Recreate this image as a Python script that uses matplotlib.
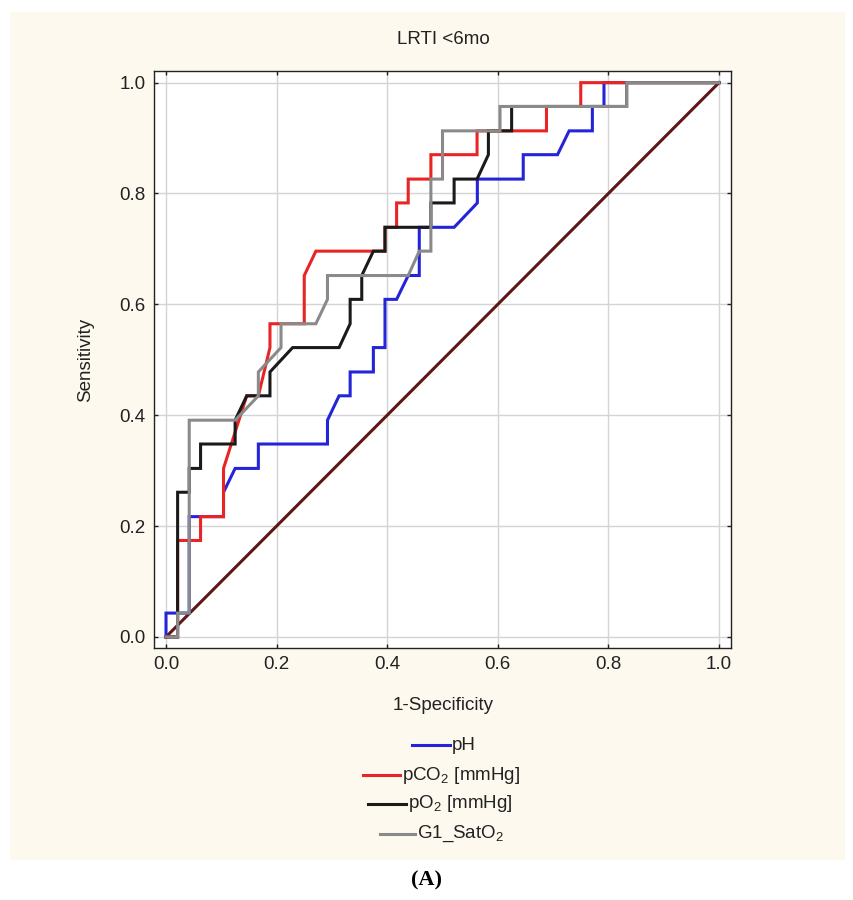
import matplotlib
matplotlib.use("Agg")
import matplotlib.pyplot as plt
from matplotlib.lines import Line2D
from matplotlib.patches import Rectangle

plt.rcParams['font.family'] = ['Liberation Sans', 'DejaVu Sans']
plt.rcParams['mathtext.fontset'] = 'custom'
plt.rcParams['mathtext.rm'] = 'Liberation Sans'

# ROC curves: (1-specificity, sensitivity) vertices
ph_x = [0, 0, 0.042, 0.042, 0.104, 0.104, 0.125, 0.167, 0.167, 0.292, 0.292, 0.313, 0.333,
        0.333, 0.375, 0.375, 0.396, 0.396, 0.417, 0.438, 0.458, 0.458, 0.521, 0.563, 0.563,
        0.646, 0.646, 0.708, 0.729, 0.771, 0.771, 0.792, 0.792, 1.0]
ph_y = [0, 0.043, 0.043, 0.217, 0.217, 0.261, 0.304, 0.304, 0.348, 0.348, 0.391, 0.435, 0.435,
        0.478, 0.478, 0.522, 0.522, 0.609, 0.609, 0.652, 0.652, 0.739, 0.739, 0.783, 0.826,
        0.826, 0.870, 0.870, 0.913, 0.913, 0.957, 0.957, 1.0, 1.0]

pco2_x = [0, 0.021, 0.021, 0.0625, 0.0625, 0.104, 0.104, 0.146, 0.167, 0.188, 0.188, 0.25,
          0.25, 0.271, 0.396, 0.396, 0.417, 0.417, 0.438, 0.438, 0.479, 0.479, 0.5625, 0.5625,
          0.688, 0.688, 0.75, 0.75, 1.0]
pco2_y = [0, 0, 0.174, 0.174, 0.217, 0.217, 0.304, 0.435, 0.435, 0.522, 0.565, 0.565,
          0.652, 0.696, 0.696, 0.739, 0.739, 0.783, 0.783, 0.826, 0.826, 0.870, 0.870, 0.913,
          0.913, 0.957, 0.957, 1.0, 1.0]

po2_x = [0, 0.021, 0.021, 0.042, 0.042, 0.0625, 0.0625, 0.125, 0.125, 0.146, 0.188, 0.188,
         0.229, 0.313, 0.333, 0.333, 0.354, 0.354, 0.375, 0.396, 0.396, 0.479, 0.479, 0.521,
         0.521, 0.5625, 0.583, 0.583, 0.625, 0.625, 0.833, 0.833, 1.0]
po2_y = [0, 0, 0.261, 0.261, 0.304, 0.304, 0.348, 0.348, 0.391, 0.435, 0.435, 0.478,
         0.522, 0.522, 0.565, 0.609, 0.609, 0.652, 0.696, 0.696, 0.739, 0.739, 0.783, 0.783,
         0.826, 0.826, 0.870, 0.913, 0.913, 0.957, 0.957, 1.0, 1.0]

sat_x = [0, 0.021, 0.021, 0.042, 0.042, 0.125, 0.167, 0.167, 0.208, 0.208, 0.271, 0.292, 0.292,
         0.438, 0.458, 0.479, 0.479, 0.5, 0.5, 0.604, 0.604, 0.833, 0.833, 1.0]
sat_y = [0, 0, 0.043, 0.043, 0.391, 0.391, 0.435, 0.478, 0.522, 0.565, 0.565, 0.609, 0.652,
         0.652, 0.696, 0.696, 0.826, 0.826, 0.913, 0.913, 0.957, 0.957, 1.0, 1.0]

ref_x = [0, 1]
ref_y = [0, 1]

names = ['pH', r'pCO$_\mathregular{2}$ [mmHg]', r'pO$_\mathregular{2}$ [mmHg]',
         r'G1_SatO$_\mathregular{2}$']
colors = ['#2424d8', '#e82424', '#1a1a1a', '#8a8a8a']
ticks = [0.0, 0.2, 0.4, 0.6, 0.8, 1.0]
tick_labels = ['0.0', '0.2', '0.4', '0.6', '0.8', '1.0']

W, H = 854, 900
FS = 13.5
fig = plt.figure(figsize=(W / 100, H / 100), dpi=100)
fig.patch.set_facecolor('white')
fig.patches.append(Rectangle((10 / W, 1 - 860 / H), 835 / W, 848 / H,
                             transform=fig.transFigure, facecolor='#fdf9ee',
                             edgecolor='none', zorder=-10))

ax = fig.add_axes([154 / W, 1 - 648 / H, 577 / W, 577 / H])
ax.set_facecolor('white')

ax.plot(ref_x, ref_y, color='#5e1616', lw=2.2, zorder=2)
curves = [(ph_x, ph_y), (pco2_x, pco2_y), (po2_x, po2_y), (sat_x, sat_y)]
for (cx, cy), c, i in zip(curves, colors, range(4)):
    ax.plot(cx, cy, color=c, lw=2.2, zorder=3 + i, solid_joinstyle='miter')

ax.set_xlim(-0.0217, 1.0217)
ax.set_ylim(-0.02, 1.021)
ax.set_xticks(ticks)
ax.set_xticklabels(tick_labels)
ax.set_yticks(ticks)
ax.set_yticklabels(tick_labels)
ax.grid(True, color='#d4d4d4', lw=1.0)
ax.set_axisbelow(True)
ax.tick_params(direction='in', length=3, width=1, top=True, right=True,
               labelsize=FS, colors='#222222', pad=6)
for s in ax.spines.values():
    s.set_color('#222222')
    s.set_linewidth(1.0)

fig.text(443 / W, 1 - 40 / H, 'LRTI <6mo', ha='center', va='center', fontsize=FS,
         color='#222222')
fig.text(443 / W, 1 - 706 / H, '1-Specificity', ha='center', va='center', fontsize=FS,
         color='#222222')
fig.text(86 / W, 1 - 360 / H, 'Sensitivity', ha='center', va='center', rotation=90,
         fontsize=FS, color='#222222')

# legend, each row centred on its own like the original
leg_rows = [(412, 450, 745), (363, 400, 775), (368, 406, 804), (380, 415, 834)]
for (x0, x1, yy), name, c in zip(leg_rows, names, colors):
    fig.add_artist(Line2D([x0 / W, x1 / W], [1 - yy / H, 1 - yy / H], color=c, lw=2.2,
                          transform=fig.transFigure))
    fig.text((x1 + 2) / W, 1 - yy / H, name, ha='left', va='center', fontsize=FS,
             color='#222222')

fig.text(427 / W, 1 - 880 / H, '(A)', ha='center', va='center', fontsize=16,
         fontweight='bold', family='Liberation Serif', color='black')

fig.savefig('out.png', dpi=100)
